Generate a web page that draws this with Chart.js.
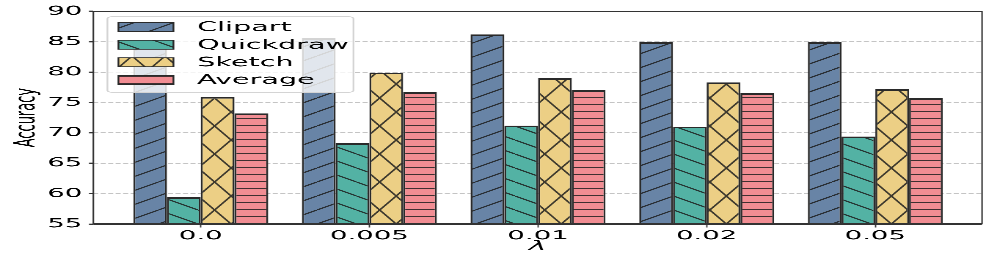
<!DOCTYPE html>
<html>
<head>
<meta charset="utf-8">
<script src="https://cdn.jsdelivr.net/npm/chart.js@4.4.1/dist/chart.umd.min.js"></script>
<style>
  html, body { margin: 0; padding: 0; background: #fff; overflow: hidden; }
  /* the reference figure is stretched sideways, so draw narrow and stretch */
  #chart { display: block; transform-origin: 0 0; transform: scaleX(2.2009); }
</style>
</head>
<body>
<canvas id="chart" width="453" height="262"></canvas>
<script>
const lambdas = ["0.0", "0.005", "0.01", "0.02", "0.05"];
const clipart = [84.0, 85.6, 86.2, 84.9, 84.9];
const quickdraw = [59.4, 68.3, 71.2, 71.0, 69.4];
const sketch = [75.9, 79.9, 79.0, 78.3, 77.2];
const average = [73.2, 76.7, 77.0, 76.5, 75.7];
const yTicks = [55, 60, 65, 70, 75, 80, 85, 90];

const RES = 3;

// hatch fills like matplotlib's '/', '\', 'x', '-'
function hatch(base, kind) {
    const sizes = { "/": [18, 14], "\\": [18, 14], "x": [15, 28], "-": [4, 7] };
    const [w, h] = sizes[kind];
    const c = document.createElement("canvas");
    c.width = w * RES;
    c.height = h * RES;
    const g = c.getContext("2d");
    g.scale(RES, RES);
    g.fillStyle = base;
    g.fillRect(0, 0, w, h);
    g.strokeStyle = "rgba(30,30,30,0.85)";
    g.lineWidth = 1;
    g.beginPath();
    if (kind === "/" || kind === "x") {
        for (let k = -1; k <= 1; k++) { g.moveTo(0, h + k * h); g.lineTo(w, k * h); }
    }
    if (kind === "\\" || kind === "x") {
        for (let k = -1; k <= 1; k++) { g.moveTo(0, k * h); g.lineTo(w, h + k * h); }
    }
    if (kind === "-") { g.moveTo(0, h - 0.5); g.lineTo(w, h - 0.5); }
    g.stroke();
    const p = g.createPattern(c, "repeat");
    p.setTransform(new DOMMatrix().scale(1 / RES, 1 / RES));
    return p;
}

const series = [
    { label: "Clipart", data: clipart, color: "#6884a6", hatch: "/" },
    { label: "Quickdraw", data: quickdraw, color: "#53b2a4", hatch: "\\" },
    { label: "Sketch", data: sketch, color: "#eccf85", hatch: "x" },
    { label: "Average", data: average, color: "#f18d93", hatch: "-" },
];

// spines + legend box drawn on top of the bars
const frameAndLegend = {
    id: "frameAndLegend",
    afterDraw(chart) {
        const ctx = chart.ctx;
        const a = chart.chartArea;
        ctx.save();
        ctx.strokeStyle = "#333";
        ctx.lineWidth = 1.3;
        ctx.beginPath();
        ctx.moveTo(a.left, a.top); ctx.lineTo(a.right, a.top);
        ctx.moveTo(a.left, a.bottom); ctx.lineTo(a.right, a.bottom);
        ctx.stroke();
        ctx.lineWidth = 0.7;
        ctx.beginPath();
        ctx.moveTo(a.left, a.top); ctx.lineTo(a.left, a.bottom);
        ctx.moveTo(a.right, a.top); ctx.lineTo(a.right, a.bottom);
        ctx.stroke();

        const bx = a.left + 6.4, by = a.top + 5.4;
        ctx.fillStyle = "rgba(255,255,255,0.8)";
        ctx.strokeStyle = "#d4d4d4";
        ctx.lineWidth = 0.8;
        ctx.beginPath();
        ctx.roundRect(bx, by, 111.8, 75.6, 2);
        ctx.fill();
        ctx.stroke();

        ctx.font = "13px 'DejaVu Sans'";
        ctx.textBaseline = "middle";
        chart.data.datasets.forEach((ds, i) => {
            const cy = by + 10.4 + i * 17.6;
            ctx.fillStyle = ds.backgroundColor;
            ctx.fillRect(bx + 5, cy - 4.5, 25, 9);
            ctx.strokeStyle = "#2a2a2a";
            ctx.lineWidth = 0.8;
            ctx.strokeRect(bx + 5, cy - 4.5, 25, 9);
            ctx.fillStyle = "#000";
            ctx.fillText(ds.label, bx + 40.8, cy + 0.5);
        });
        ctx.restore();
    },
};

new Chart(document.getElementById("chart"), {
    type: "bar",
    data: {
        datasets: series.map((s) => ({
            label: s.label,
            data: s.data.map((v, i) => ({ x: i, y: v })),
            backgroundColor: hatch(s.color, s.hatch),
            borderColor: "#2a2a2a",
            borderWidth: { top: 1.6, left: 0.9, right: 0.9, bottom: 0 },
            categoryPercentage: 0.8,
            barPercentage: 1.0,
        })),
    },
    options: {
        responsive: false,
        animation: false,
        devicePixelRatio: RES,
        layout: { padding: { left: 0, right: 6.8, top: 11.3, bottom: 0 } },
        plugins: { legend: { display: false }, tooltip: { enabled: false } },
        scales: {
            x: {
                type: "linear",
                min: -0.637,
                max: 4.633,
                offset: false,
                afterBuildTicks: (scale) => { scale.ticks = lambdas.map((_, i) => ({ value: i })); },
                afterFit: (scale) => { scale.height = 38; },
                ticks: {
                    callback: (v) => lambdas[v],
                    font: { family: "DejaVu Sans", size: 12.5 },
                    color: "#000",
                    padding: 1,
                    maxRotation: 0,
                    autoSkip: false,
                },
                grid: { drawOnChartArea: false, offset: false, tickLength: 3.5, tickColor: "#333", tickWidth: 0.6 },
                border: { display: false },
                title: {
                    display: true,
                    text: "λ",
                    font: { family: "DejaVu Sans", size: 13, style: "italic" },
                    color: "#000",
                    padding: { top: 0, bottom: 8 },
                },
            },
            y: {
                min: 55,
                max: 90,
                afterBuildTicks: (scale) => { scale.ticks = yTicks.map((v) => ({ value: v })); },
                afterFit: (scale) => { scale.width = 42.4; },
                ticks: { font: { family: "DejaVu Sans", size: 12.5 }, color: "#000", padding: 3 },
                grid: { color: "#c4c4c4", lineWidth: 1, tickLength: 2, tickColor: "#333", tickWidth: 1.2 },
                border: { display: false, dash: [2.3, 1.1] },
                title: {
                    display: true,
                    text: "Accuracy",
                    font: { family: "DejaVu Sans", size: 13 },
                    color: "#000",
                    padding: { top: 4.5, bottom: 0 },
                },
            },
        },
    },
    plugins: [frameAndLegend],
});
</script>
</body>
</html>
